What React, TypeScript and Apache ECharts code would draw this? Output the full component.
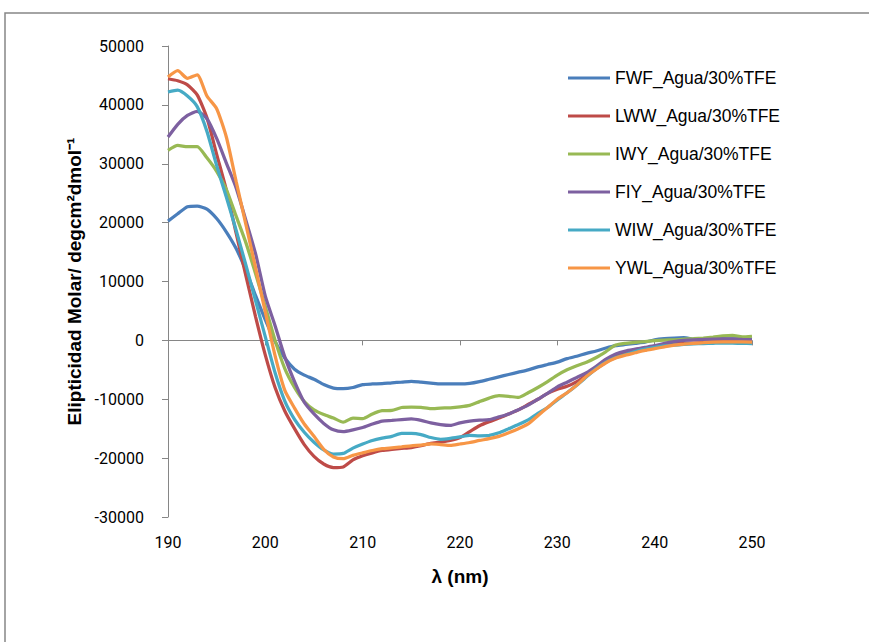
import React, { useEffect, useRef } from "react";
import * as echarts from "echarts";

const wavelength = [
  190, 191, 192, 193, 194, 195, 196, 197, 198, 199,
  200, 201, 202, 203, 204, 205, 206, 207, 208, 209,
  210, 211, 212, 213, 214, 215, 216, 217, 218, 219,
  220, 221, 222, 223, 224, 225, 226, 227, 228, 229,
  230, 231, 232, 233, 234, 235, 236, 237, 238, 239,
  240, 241, 242, 243, 244, 245, 246, 247, 248, 249, 250,
];

const seriesNames = [
  "FWF_Agua/30%TFE",
  "LWW_Agua/30%TFE",
  "IWY_Agua/30%TFE",
  "FIY_Agua/30%TFE",
  "WIW_Agua/30%TFE",
  "YWL_Agua/30%TFE",
];

const colors = ["#4A7EBB", "#BE4B48", "#98B954", "#7D60A0", "#46AAC5", "#F79646"];

const fwf = [
  20260, 21500, 22700, 22800, 22300, 20700, 18400, 15600, 11900, 7600,
  3500, -200, -3000, -4900, -5900, -6600, -7500, -8100, -8200, -8000,
  -7500, -7400, -7350, -7200, -7100, -6950, -7100, -7250, -7400, -7400,
  -7400, -7300, -7000, -6600, -6200, -5800, -5400, -5000, -4500, -4100,
  -3700, -3100, -2700, -2200, -1800, -1300, -900, -700, -500, -300,
  100, 300, 400, 450, 200, 150, 250, 300, 250, 250, 200,
];

const lww = [
  44440, 44100, 43400, 41700, 37800, 31600, 25500, 18200, 11000, 4000,
  -2500, -8000, -12000, -15000, -17700, -19700, -21000, -21600, -21500, -20300,
  -19600, -19100, -18700, -18500, -18350, -18200, -17900, -17500, -17300, -17000,
  -16500, -15500, -14500, -13800, -13200, -12500, -11800, -10900, -10000, -9000,
  -8300, -7800, -7000, -5900, -4800, -3700, -2600, -2000, -1600, -1300,
  -1000, -700, -550, -500, -450, -350, -200, 0, 0, 0, 0,
];

const iwy = [
  32270, 33100, 32900, 32900, 31000, 28700, 25600, 21100, 16600, 11300,
  5700, 0, -4800, -8000, -10400, -11800, -12600, -13200, -13900, -13200,
  -13300, -12500, -11950, -11900, -11400, -11330, -11400, -11600, -11500, -11450,
  -11300, -11050, -10400, -9800, -9400, -9500, -9700, -8900, -8000, -7000,
  -5900, -5000, -4300, -3700, -2900, -1900, -800, -500, -350, -200,
  -50, 50, 100, 200, 280, 400, 550, 750, 850, 600, 700,
];

const fiy = [
  34530, 36700, 38200, 38900, 37650, 34300, 30100, 25900, 20400, 14700,
  7500, 2500, -2800, -7000, -10500, -12500, -14100, -15200, -15500, -15200,
  -14800, -14200, -13700, -13600, -13450, -13350, -13600, -14000, -14300, -14440,
  -14000, -13700, -13550, -13470, -13000, -12500, -11800, -11000, -10000, -9000,
  -7900, -7100, -6300, -5500, -4400, -3200, -2300, -1800, -1500, -1200,
  -900, -500, -200, 0, 100, 150, 200, 250, 250, 150, 100,
];

const wiw = [
  42180, 42500, 41500, 39700, 35500, 29700, 24300, 18700, 12800, 6700,
  600, -5500, -10300, -13400, -15600, -17300, -18600, -19300, -19200, -18300,
  -17600, -17000, -16600, -16300, -15800, -15800, -16000, -16500, -16800, -16650,
  -16400, -16140, -16200, -16140, -15700, -15000, -14300, -13500, -12400, -11400,
  -10100, -8900, -7600, -6200, -4800, -3700, -2900, -2400, -1900, -1500,
  -1200, -950, -800, -700, -600, -550, -500, -450, -450, -500, -560,
];

const ywl = [
  44720, 45800, 44500, 45100, 41500, 39350, 34500, 27000, 19700, 12300,
  4800, -2600, -8500, -11500, -14200, -16300, -18500, -19800, -20100, -19530,
  -19100, -18700, -18400, -18250, -18100, -17900, -17800, -17600, -17700, -17830,
  -17600, -17350, -17000, -16700, -16300, -15700, -15000, -14200, -12800, -11400,
  -10000, -8900, -7600, -6100, -4900, -3800, -3000, -2500, -2100, -1700,
  -1400, -1100, -800, -650, -500, -400, -300, -250, -250, -250, -280,
];

const seriesValues = [fwf, lww, iwy, fiy, wiw, ywl];

const xTitle = "λ (nm)";
const yTitle = "Elipticidad Molar/ degcm²dmol⁻¹";

export default function App() {
  const ref = useRef<HTMLDivElement>(null);

  useEffect(() => {
    if (!ref.current) return;
    const chart = echarts.init(ref.current, undefined, { renderer: "svg" });
    const axisGray = "#868686";
    const option: any = {
      animation: false,
      backgroundColor: "#ffffff",
      graphic: [
        {
          type: "rect",
          silent: true,
          z: -10,
          shape: { x: 5, y: 13, width: 900, height: 700 },
          style: { fill: "none", stroke: axisGray, lineWidth: 1.5 },
        },
      ],
      grid: { left: 168, top: 46, width: 584, height: 471 },
      legend: {
        orient: "vertical",
        left: 563,
        top: 64,
        icon: "rect",
        itemWidth: 42,
        itemHeight: 3,
        itemGap: 20,
        data: seriesNames,
        textStyle: {
          fontFamily: "Liberation Sans, Arial, sans-serif",
          fontSize: 17.5,
          lineHeight: 18,
          color: "#000",
        },
      },
      xAxis: [
        {
          type: "value",
          min: 190,
          max: 250,
          interval: 10,
          position: "bottom",
          axisLine: { show: true, onZero: true, lineStyle: { color: axisGray, width: 1 } },
          axisTick: { show: true, inside: false, length: 5, lineStyle: { color: axisGray } },
          axisLabel: { show: false },
          splitLine: { show: false },
        },
        {
          type: "value",
          min: 190,
          max: 250,
          interval: 10,
          position: "bottom",
          axisLine: { show: false, onZero: false },
          axisTick: { show: false },
          splitLine: { show: false },
          axisLabel: {
            margin: 17,
            fontFamily: "Roboto, sans-serif",
            fontSize: 16,
            color: "#000",
          },
          name: xTitle,
          nameLocation: "middle",
          nameGap: 50,
          nameTextStyle: {
            fontFamily: "Liberation Sans, Arial, sans-serif",
            fontWeight: "bold",
            fontSize: 19,
            color: "#000",
          },
        },
      ],
      yAxis: {
        type: "value",
        min: -30000,
        max: 50000,
        interval: 10000,
        axisLine: { show: true, onZero: false, lineStyle: { color: axisGray, width: 1 } },
        axisTick: { show: true, inside: false, length: 6, lineStyle: { color: axisGray } },
        splitLine: { show: false },
        axisLabel: {
          margin: 24,
          fontFamily: "Roboto, sans-serif",
          fontSize: 16,
          color: "#000",
          formatter: (v: number) => String(v),
        },
        name: yTitle,
        nameLocation: "middle",
        nameGap: 83,
        nameTextStyle: {
          fontFamily: "Liberation Sans, Arial, sans-serif",
          fontWeight: "bold",
          fontSize: 19,
          color: "#000",
        },
      },
      series: seriesNames.map((name, i) => ({
        name,
        type: "line",
        xAxisIndex: 0,
        showSymbol: false,
        symbol: "none",
        smooth: 0.2,
        color: colors[i],
        lineStyle: { width: 3.25, color: colors[i] },
        data: wavelength.map((w, j) => [w, seriesValues[i][j]]),
      })),
    };
    chart.setOption(option);
    return () => chart.dispose();
  }, []);

  return (
    <div
      ref={ref}
      style={{ position: "fixed", left: 0, top: 0, width: 869, height: 642 }}
    />
  );
}
